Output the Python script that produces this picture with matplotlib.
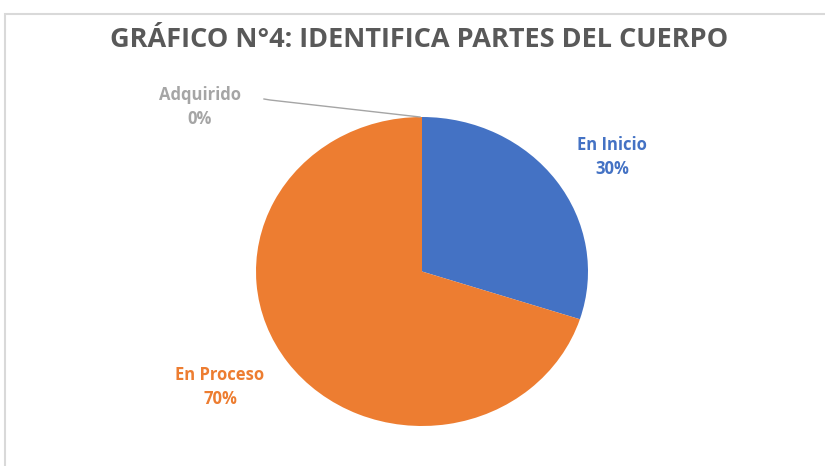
import matplotlib.pyplot as plt
from matplotlib.patches import Rectangle

categories = ["En Inicio", "En Proceso", "Adquirido"]
values = [30, 70, 0]
colors = ["#4472C4", "#ED7D31", "#A5A5A5"]
title = "GRÁFICO N°4: IDENTIFICA PARTES DEL CUERPO"

W, H = 825, 466
fig = plt.figure(figsize=(W / 100, H / 100), dpi=100)
plt.rcParams['font.family'] = ['Open Sans', 'DejaVu Sans']

# chart border (light gray frame)
fig.patches.append(Rectangle((5 / W, -0.1), 1.2, (H - 14) / H + 0.1, transform=fig.transFigure,
                             fill=False, edgecolor="#D9D9D9", linewidth=1.5))

# pie is slightly wider than tall in the reference
cx, cy, rx, ry = 422, 271.5, 166, 154.5
ax = fig.add_axes([(cx - rx) / W, (H - cy - ry) / H, 2 * rx / W, 2 * ry / H])
wedges, _ = ax.pie(values, colors=colors, startangle=90, counterclock=False,
                   radius=1, wedgeprops=dict(linewidth=0))
ax.set_aspect('auto')
ax.set_xlim(-1, 1)
ax.set_ylim(-1, 1)
ax.axis('off')

fig.text(419 / W, 1 - 40 / H, title, ha='center', va='center', fontsize=19.5,
         fontweight='bold', color="#595959")

label_pos = [(612, 157), (220, 387), (200, 107)]
for name, val, col, (px, py) in zip(categories, values, colors, label_pos):
    fig.text(px / W, 1 - py / H, f"{name}\n{val}%", ha='center', va='center',
             fontsize=12, fontweight='bold', color=col, linespacing=1.45)

# leader line for the 0% slice
fig.add_artist(plt.Line2D([264 / W, 270 / W, 420 / W], [1 - 99 / H, 1 - 100 / H, 1 - 117 / H],
                          transform=fig.transFigure, color="#A5A5A5", linewidth=1))

plt.savefig("out.png", dpi=100)
